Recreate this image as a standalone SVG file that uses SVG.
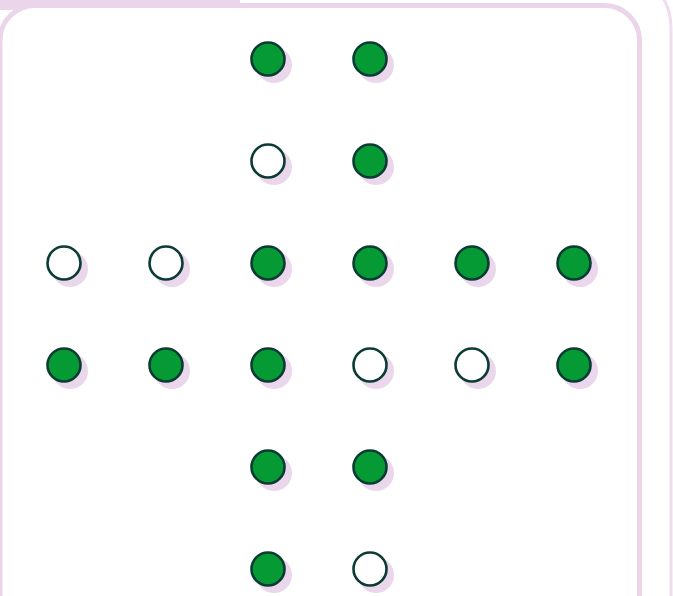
<svg xmlns="http://www.w3.org/2000/svg" width="673" height="596" viewBox="0 0 673 596">
<defs>
<style>
.sh{fill:#ebd7eb}
.on{fill:#059a33;stroke:#0b3b34;stroke-width:2.6}
.off{fill:#ffffff;stroke:#0b3b34;stroke-width:2.6}
</style>
</defs>
<rect width="673" height="596" fill="#ffffff"/>
<g id="frame">
<path d="M612 -32 A60 60 0 0 1 671 28 L671 600" fill="none" stroke="#efdcef" stroke-width="3"/>
<rect x="0" y="0" width="240" height="10" fill="#ead5ea"/>
<rect x="0" y="5.5" width="639.5" height="700" rx="35" fill="#ffffff" stroke="#ead5ea" stroke-width="5"/>
</g>
<g id="connectors"></g>
<g id="n-0-2"><circle class="sh" cx="274" cy="65" r="18"/><circle class="on" cx="268" cy="59" r="16.5"/></g>
<g id="n-0-3"><circle class="sh" cx="376" cy="65" r="18"/><circle class="on" cx="370" cy="59" r="16.5"/></g>
<g id="n-1-2"><circle class="sh" cx="274" cy="167" r="18"/><circle class="off" cx="268" cy="161" r="16.5"/></g>
<g id="n-1-3"><circle class="sh" cx="376" cy="167" r="18"/><circle class="on" cx="370" cy="161" r="16.5"/></g>
<g id="n-2-0"><circle class="sh" cx="70" cy="269" r="18"/><circle class="off" cx="64" cy="263" r="16.5"/></g>
<g id="n-2-1"><circle class="sh" cx="172" cy="269" r="18"/><circle class="off" cx="166" cy="263" r="16.5"/></g>
<g id="n-2-2"><circle class="sh" cx="274" cy="269" r="18"/><circle class="on" cx="268" cy="263" r="16.5"/></g>
<g id="n-2-3"><circle class="sh" cx="376" cy="269" r="18"/><circle class="on" cx="370" cy="263" r="16.5"/></g>
<g id="n-2-4"><circle class="sh" cx="478" cy="269" r="18"/><circle class="on" cx="472" cy="263" r="16.5"/></g>
<g id="n-2-5"><circle class="sh" cx="580" cy="269" r="18"/><circle class="on" cx="574" cy="263" r="16.5"/></g>
<g id="n-3-0"><circle class="sh" cx="70" cy="371" r="18"/><circle class="on" cx="64" cy="365" r="16.5"/></g>
<g id="n-3-1"><circle class="sh" cx="172" cy="371" r="18"/><circle class="on" cx="166" cy="365" r="16.5"/></g>
<g id="n-3-2"><circle class="sh" cx="274" cy="371" r="18"/><circle class="on" cx="268" cy="365" r="16.5"/></g>
<g id="n-3-3"><circle class="sh" cx="376" cy="371" r="18"/><circle class="off" cx="370" cy="365" r="16.5"/></g>
<g id="n-3-4"><circle class="sh" cx="478" cy="371" r="18"/><circle class="off" cx="472" cy="365" r="16.5"/></g>
<g id="n-3-5"><circle class="sh" cx="580" cy="371" r="18"/><circle class="on" cx="574" cy="365" r="16.5"/></g>
<g id="n-4-2"><circle class="sh" cx="274" cy="473" r="18"/><circle class="on" cx="268" cy="467" r="16.5"/></g>
<g id="n-4-3"><circle class="sh" cx="376" cy="473" r="18"/><circle class="on" cx="370" cy="467" r="16.5"/></g>
<g id="n-5-2"><circle class="sh" cx="274" cy="575" r="18"/><circle class="on" cx="268" cy="569" r="16.5"/></g>
<g id="n-5-3"><circle class="sh" cx="376" cy="575" r="18"/><circle class="off" cx="370" cy="569" r="16.5"/></g>
</svg>
